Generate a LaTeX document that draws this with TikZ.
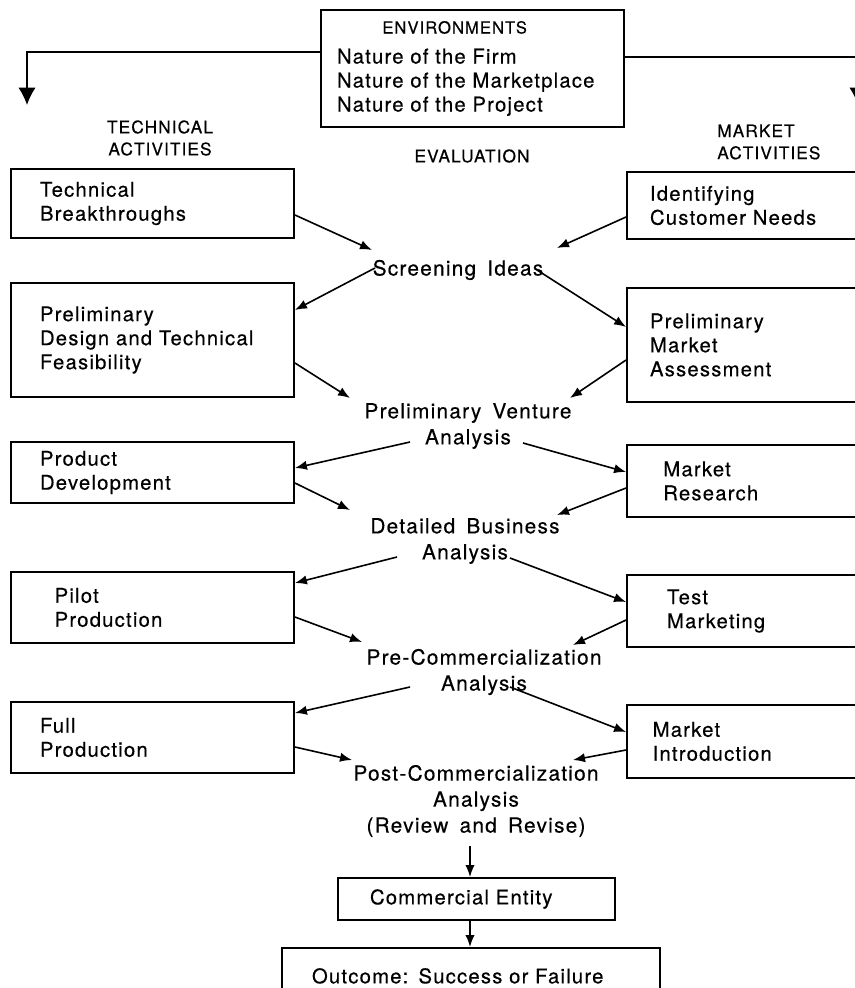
\documentclass[tikz,border=0pt]{standalone}
\usepackage{fontspec}
\setmainfont{TeX Gyre Heros}[LetterSpace=6,WordSpace=1.6,FakeBold=0.4]
\usetikzlibrary{arrows.meta,calc}

\tikzset{
  lbox/.style={draw, line width=1.4pt, align=left, inner xsep=21.75pt,
    text width=168.75pt, font=\fontsize{15.2}{18}\selectfont},
  rbox/.style={draw, line width=1.4pt, align=left, inner xsep=17.25pt,
    text width=160.5pt, font=\fontsize{15.2}{18}\selectfont},
  evtxt/.style={align=center, inner sep=0pt, font=\fontsize{15.6}{19.5}\selectfont},
  head/.style={align=center, inner sep=0pt, font=\fontsize{13}{16.5}\selectfont},
  arr/.style={-{Latex[length=9pt,width=7pt]}, line width=1.2pt},
  bigarr/.style={-{Latex[length=13pt,width=13pt]}, line width=1.2pt},
}

\begin{document}
\begin{tikzpicture}[x=0.75pt,y=-0.75pt]
\useasboundingbox (0,0) rectangle (855,988);
\clip (0,0) rectangle (855,988);

% environments box on top
\node[draw, line width=1.4pt, align=left, inner xsep=12pt, text width=203.25pt,
  minimum height=87.75pt, font=\fontsize{15.2}{18}\selectfont] (env) at (472.5,68.5)
  {\hspace*{34pt}{\fontsize{12.5}{18}\selectfont ENVIRONMENTS}\\[4.5pt]
   Nature of the Firm\\ Nature of the Marketplace\\ Nature of the Project};
\coordinate (lt) at (27,105);
\coordinate (rt) at (858,105);
\draw[bigarr] ($(env.west)+(0,-16.5)$) -| (lt);
\draw[bigarr] ($(env.east)+(0,-11.5)$) -| (rt);

% column heads
\node[head] (techh) at (160,138) {TECHNICAL\\ACTIVITIES};
\node[head] (evalh) at (472,156) {EVALUATION};
\node[head, align=left, anchor=west] (markh) at (717,142) {MARKET\\ACTIVITIES};

% technical activities
\node[lbox, minimum height=51.75pt] (tb) at (152.5,203.5) {Technical\\Breakthroughs};
\node[lbox, minimum height=85.5pt] (pd) at (152.5,340) {Preliminary\\Design and Technical\\Feasibility};
\node[lbox, minimum height=45.75pt] (dev) at (152.5,472.5) {Product\\Development};
\node[lbox, minimum height=53.25pt] (pil) at (152.5,607.5) {\hspace*{11pt}Pilot\\\hspace*{11pt}Production};
\node[lbox, minimum height=53.25pt] (full) at (152.5,737.5) {Full\\Production};

% market activities
\node[rbox, minimum height=50.25pt] (icn) at (757,205.5) {Identifying\\Customer Needs};
\node[rbox, minimum height=85.5pt] (pma) at (757,345) {Preliminary\\Market\\Assessment};
\node[rbox, minimum height=54pt] (mr) at (757,481) {\hspace*{10pt}Market\\\hspace*{10pt}Research};
\node[rbox, minimum height=54pt] (tm) at (757,611) {\hspace*{12.75pt}Test\\\hspace*{12.75pt}Marketing};
\node[rbox, minimum height=54.75pt] (mi) at (757,741.5) {\hspace*{2pt}Market\\\hspace*{2pt}Introduction};

% evaluation
\node[evtxt] (si) at (458,270) {Screening Ideas};
\node[evtxt] (pva) at (468,426) {Preliminary Venture\\Analysis};
\node[evtxt] (dba) at (465,541) {Detailed Business\\Analysis};
\node[evtxt] (pca) at (484,672) {Pre-Commercialization\\Analysis};
\node[evtxt] (postca) at (476,801) {Post-Commercialization\\Analysis\\(Review and Revise)};

\draw[arr] ($(tb.east)+(0,11.5)$) -- ($(si)+(-86,-20)$);
\draw[arr] ($(icn.west)+(0,11.5)$) -- ($(si)+(99,-22)$);
\draw[arr] ($(si)+(-83,-2)$) -- ($(pd.east)+(0,-30)$);
\draw[arr] ($(si)+(79,0)$) -- ($(pma.west)+(0,-18)$);

\draw[arr] ($(pd.east)+(0,23)$) -- ($(pva)+(-118,-28)$);
\draw[arr] ($(pma.west)+(0,15)$) -- ($(pva)+(102,-28)$);
\draw[arr] ($(pva)+(-58,16)$) -- ($(dev.east)+(0,-4.5)$);
\draw[arr] ($(pva)+(55,17)$) -- ($(mr.west)+(0,-9)$);

\draw[arr] ($(dev.east)+(0,10.5)$) -- ($(dba)+(-115,-31)$);
\draw[arr] ($(mr.west)+(0,7)$) -- ($(dba)+(92,-26)$);
\draw[arr] ($(dba)+(-68,16)$) -- ($(pil.east)+(0,-24.5)$);
\draw[arr] ($(dba)+(45,17)$) -- ($(tm.west)+(0,-9)$);

\draw[arr] ($(pil.east)+(0,9.5)$) -- ($(pca)+(-122,-30)$);
\draw[arr] ($(tm.west)+(0,9)$) -- ($(pca)+(89,-27)$);
\draw[arr] ($(pca)+(-74,15)$) -- ($(full.east)+(0,-24.5)$);
\draw[arr] ($(pca)+(26,15)$) -- ($(mi.west)+(0,-9.5)$);

\draw[arr] ($(full.east)+(0,9.5)$) -- ($(postca)+(-124,-41)$);
\draw[arr] ($(mi.west)+(0,8.5)$) -- ($(postca)+(97,-41)$);

% outcome
\node[draw, line width=1.4pt, align=left, inner xsep=24pt, text width=159.75pt,
  minimum height=31.5pt, font=\fontsize{15.2}{18}\selectfont] (ce) at (476.5,899) {Commercial Entity};
\node[draw, line width=1.4pt, align=left, inner xsep=22.5pt, text width=238.5pt,
  minimum height=42pt, font=\fontsize{15.2}{18}\selectfont, anchor=north] (out) at (471,947) {Outcome: Success or Failure};
\draw[arr] ($(ce.north)+(-6.5,-31)$) -- ($(ce.north)+(-6.5,0)$);
\draw[arr] ($(ce.south)+(-6.5,0)$) -- ($(out.north)+(-1,0)$);

\end{tikzpicture}
\end{document}
